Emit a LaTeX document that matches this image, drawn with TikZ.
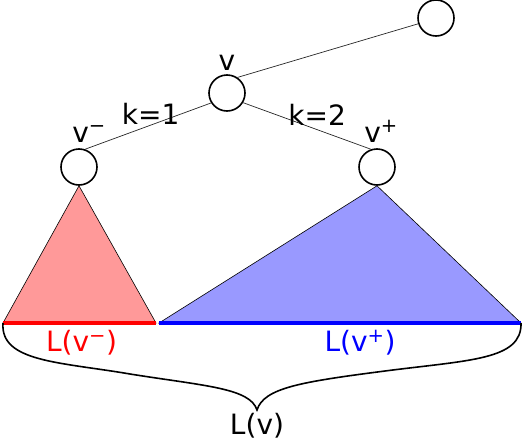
\documentclass[tikz,border=0pt]{standalone}
\usepackage{fontspec}
\setmainfont{DejaVu Sans}
\usetikzlibrary{positioning}
\definecolor{leftfill}{RGB}{255,153,153}
\definecolor{rightfill}{RGB}{153,153,255}
\definecolor{leftline}{RGB}{255,0,0}
\definecolor{rightline}{RGB}{0,0,255}
\tikzset{
  vtx/.style={circle, draw, fill=white, line width=1.6pt, minimum size=36pt, inner sep=0pt},
  link/.style={draw=black!85, line width=0.7pt},
  tri/.style={draw=black, line width=0.6pt},
  lbl/.style={font=\fontsize{28}{30}\selectfont, inner sep=0pt},
  leaves/.style={line width=4pt},
  brace/.style={line width=1.6pt}
}

\begin{document}
\begin{tikzpicture}[x=1pt, y=-1pt]
\useasboundingbox (0,0) rectangle (522,442);
% tree nodes
\node[vtx] (top) at (436,18) {};
\node[vtx] (v) at (227,93) {};
\node[vtx] (vm) at (79,167) {};
\node[vtx] (vp) at (377,167) {};
\node[lbl, above=4pt of v] (vlbl) {v};
\node[lbl, above=6pt of vm, xshift=10pt] (vmlbl) {v\textsuperscript{−}};
\node[lbl, above=6pt of vp, xshift=4pt] (vplbl) {v\textsuperscript{+}};
% edges
\draw[link] (v.56) -- (top.198);
\draw[link] (v.212) -- node[lbl, pos=.48, above=0pt] {k=1} (vm.71);
\draw[link] (v.329) -- node[lbl, pos=.58, above=4pt] {k=2} (vp.109);
% subtrees
\coordinate (lmin) at (3,323);
\coordinate (lmax) at (156,323);
\coordinate (rmin) at (159,323);
\coordinate (rmax) at (521,323);
\filldraw[tri, fill=leftfill] (vm.south) -- (lmin) -- (lmax) -- cycle;
\filldraw[tri, fill=rightfill] (vp.south) -- (rmin) -- (rmax) -- cycle;
\draw[leaves, leftline] (lmin) -- node[lbl, below=5pt, xshift=2pt] {L(v\textsuperscript{−})} (lmax);
\draw[leaves, rightline] (rmin) -- node[lbl, below=5pt, xshift=20pt] {L(v\textsuperscript{+})} (rmax);
% brace over all leaves
\coordinate (tip) at (257,410);
\draw[brace] (lmin) .. controls (0,362) and (60,362) .. (130,374)
  .. controls (205,386) and (250,388) .. (tip)
  .. controls (264,388) and (300,382) .. (385,371)
  .. controls (470,360) and (522,360) .. (rmax);
\node[lbl, below=3pt of tip] (lv) {L(v)};
\end{tikzpicture}
\end{document}
